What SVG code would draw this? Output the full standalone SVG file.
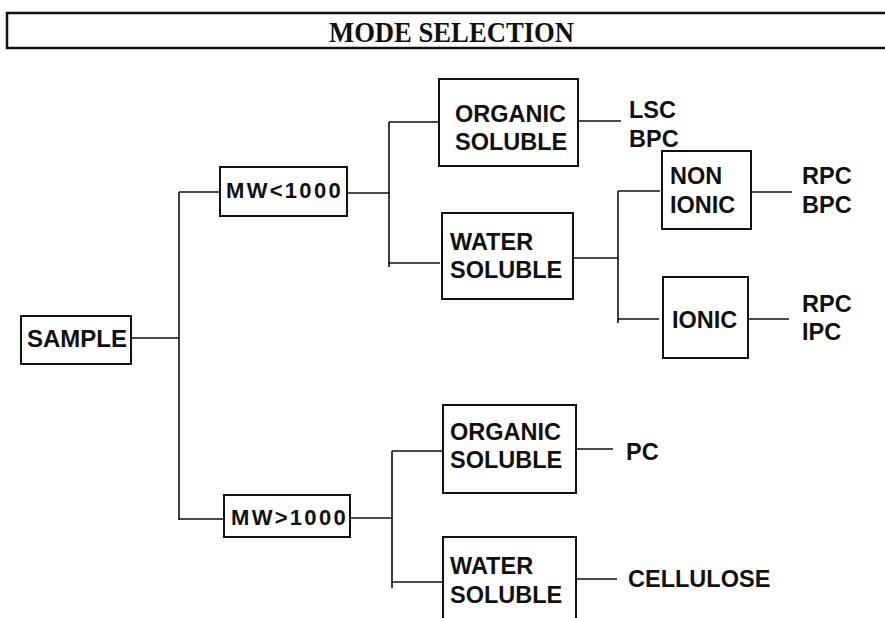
<svg xmlns="http://www.w3.org/2000/svg" width="885" height="618" viewBox="0 0 885 618">
<style>
.box{fill:none;stroke:#111;stroke-width:2}
.ln{fill:none;stroke:#111;stroke-width:1.6}
.t{font-family:"Liberation Sans",Arial,sans-serif;font-weight:bold;font-size:23.5px;fill:#111}
.mw{font-family:"Liberation Sans",Arial,sans-serif;font-weight:bold;font-size:22px;letter-spacing:2.3px;fill:#111}
.title{font-family:"Liberation Serif","Times New Roman",serif;font-weight:bold;font-size:29px;fill:#111}
</style>
<rect width="885" height="618" fill="#fff"/>
<g id="title">
<rect x="7" y="13" width="890" height="35" fill="none" stroke="#111" stroke-width="2.5"/>
<text class="title" x="329" y="42" textLength="245" lengthAdjust="spacingAndGlyphs">MODE SELECTION</text>
</g>
<g id="connectors">
<path class="ln" d="M131,338 H179 M179,192 V520 M179,192 H220 M179,519 H224"/>
<path class="ln" d="M347,193 H390 M389,122 V267 M389,122 H438 M388,263 H440"/>
<path class="ln" d="M578,121 H621 M573,258 H618 M618,191 V323 M618,191 H660 M618,319 H659 M751,192 H792 M748,319 H789"/>
<path class="ln" d="M350,518 H392 M392,451 V588 M392,451 H443 M392,582 H443 M576,449 H613 M576,579 H617"/>
</g>
<g id="sample">
<rect class="box" x="21" y="316" width="110" height="48"/>
<text class="t" x="27" y="347" style="font-size:24px">SAMPLE</text>
</g>
<g id="mw-lt-1000">
<rect class="box" x="220" y="167" width="127" height="49"/>
<text class="mw" x="226" y="198">MW&lt;1000</text>
</g>
<g id="mw-gt-1000">
<rect class="box" x="224" y="495" width="126" height="42"/>
<text class="mw" x="231" y="525">MW&gt;1000</text>
</g>
<g id="organic-1">
<rect class="box" x="439" y="79" width="139" height="87"/>
<text class="t" x="455" y="122">ORGANIC</text>
<text class="t" x="455" y="150">SOLUBLE</text>
</g>
<g id="water-1">
<rect class="box" x="442" y="213" width="131" height="86"/>
<text class="t" x="450" y="250">WATER</text>
<text class="t" x="450" y="278">SOLUBLE</text>
</g>
<g id="nonionic">
<rect class="box" x="662" y="151" width="89" height="78"/>
<text class="t" x="670" y="184">NON</text>
<text class="t" x="670" y="213">IONIC</text>
</g>
<g id="ionic">
<rect class="box" x="663" y="277" width="85" height="81"/>
<text class="t" x="672" y="328">IONIC</text>
</g>
<g id="organic-2">
<rect class="box" x="443" y="405" width="133" height="88"/>
<text class="t" x="450" y="440">ORGANIC</text>
<text class="t" x="450" y="468">SOLUBLE</text>
</g>
<g id="water-2">
<rect class="box" x="443" y="537" width="133" height="100"/>
<text class="t" x="450" y="574">WATER</text>
<text class="t" x="450" y="603">SOLUBLE</text>
</g>
<g id="labels">
<text class="t" x="629" y="118">LSC</text>
<text class="t" x="629" y="147">BPC</text>
<text class="t" x="802" y="184">RPC</text>
<text class="t" x="802" y="213">BPC</text>
<text class="t" x="802" y="312">RPC</text>
<text class="t" x="802" y="340">IPC</text>
<text class="t" x="626" y="460">PC</text>
<text class="t" x="628" y="587">CELLULOSE</text>
</g>
</svg>
